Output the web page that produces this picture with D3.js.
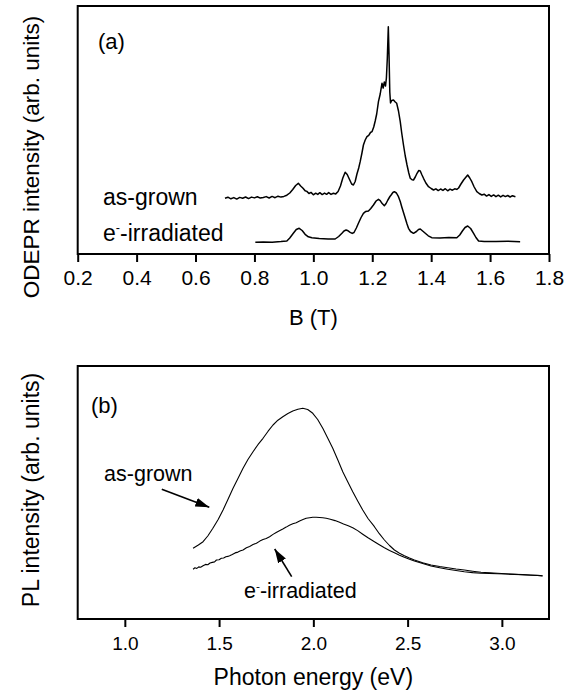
<!DOCTYPE html>
<html><head><meta charset="utf-8">
<script src="https://cdn.jsdelivr.net/npm/d3@7"></script>
<style>
body{margin:0;background:#fff;}
svg text{font-family:"Liberation Sans",Arial,Helvetica,sans-serif;fill:#000;}
</style></head><body>
<svg id="c" width="573" height="694"></svg>
<script>
// ---------- DATA ----------
// Panel (a): ODEPR intensity (arb. units) vs magnetic field B (T)
const odeprAsGrown = [
[0.700,55.7],[0.710,56.8],[0.720,55.2],[0.730,56.4],[0.740,54.9],[0.750,56.6],[0.760,55.8],[0.770,57.0],[0.780,55.4],[0.790,56.9],
[0.800,56.1],[0.810,57.3],[0.820,55.9],[0.830,56.5],[0.840,57.4],[0.850,56.0],[0.860,57.6],[0.870,56.3],[0.880,57.8],[0.890,56.9],
[0.900,57.6],[0.910,58.8],[0.920,61],[0.930,64.5],[0.940,68.5],[0.949,70.7],[0.957,68],[0.965,65.8],[0.972,63.2],[0.978,62.6],
[0.985,60.5],[0.992,61.6],[1.000,59.2],[1.008,60.8],[1.015,59.6],[1.022,61.3],[1.030,59.4],[1.038,60.9],[1.045,59.7],[1.052,61.4],
[1.060,59.6],[1.068,60.7],[1.076,60.1],[1.084,62.5],[1.092,68],[1.100,76],[1.108,81.7],[1.115,79.5],[1.122,75],[1.130,70],
[1.136,69],[1.142,72.5],[1.148,80],[1.154,86],[1.159,92.3],[1.165,101],[1.170,109],[1.176,114],[1.182,117.3],[1.188,118.6],
[1.194,121.5],[1.199,122.3],[1.205,127],[1.210,133],[1.215,140],[1.221,152.3],[1.227,160],[1.233,170.7],[1.237,166],[1.241,172],
[1.245,168],[1.248,176],[1.251,195],[1.2545,227.3],[1.257,198],[1.2595,162],[1.262,151],[1.266,153.5],[1.272,154],[1.278,152],
[1.283,150.7],[1.289,143],[1.295,132.3],[1.300,121],[1.306,109],[1.312,98],[1.318,89],[1.324,81],[1.329,75.7],[1.335,74.2],
[1.340,74],[1.346,77],[1.352,80.7],[1.358,83.5],[1.363,83],[1.368,79.5],[1.374,75.7],[1.382,71],[1.391,67.3],[1.400,65.5],
[1.408,64],[1.416,65.2],[1.424,63.4],[1.432,65.0],[1.440,63.6],[1.448,65.3],[1.456,63.2],[1.464,64.9],[1.472,63.8],[1.480,65.2],
[1.487,64.6],[1.493,66],[1.500,69.5],[1.510,74],[1.517,76.5],[1.524,79],[1.531,76],[1.538,72.3],[1.546,67],[1.555,62.3],
[1.563,60.5],[1.572,59],[1.580,59.8],[1.588,57.9],[1.596,59.4],[1.604,57.6],[1.612,59.1],[1.620,57.3],[1.628,58.8],[1.636,57.1],
[1.644,58.7],[1.652,57.4],[1.660,58.5],[1.668,57.0],[1.676,58.3],[1.686,57.3]
];
const odeprIrradiated = [
[0.803,11.7],[0.830,12.0],[0.860,11.8],[0.890,12.4],[0.910,13],[0.920,16],[0.932,20.7],[0.942,24.5],[0.952,25.7],[0.962,23.5],
[0.972,19.7],[0.983,17.2],[0.995,16.3],[1.020,15.4],[1.050,15.1],[1.074,15],[1.086,17.5],[1.097,20.7],[1.104,23],[1.111,24],
[1.118,23.2],[1.125,21.7],[1.132,20.6],[1.138,21.5],[1.146,26],[1.153,30.7],[1.162,36.5],[1.170,40.7],[1.178,42.6],[1.187,43],
[1.195,45.5],[1.204,49],[1.213,53],[1.221,54.7],[1.227,53.4],[1.233,50.7],[1.241,48.3],[1.247,50.5],[1.253,54],[1.260,57.5],
[1.264,59],[1.270,61.5],[1.275,62.3],[1.282,61],[1.289,57.3],[1.295,52.5],[1.300,47.3],[1.306,41.5],[1.312,35.7],[1.318,30],
[1.323,25.7],[1.330,22.5],[1.340,20.7],[1.350,22.5],[1.357,24.5],[1.363,25],[1.371,23],[1.380,20.7],[1.390,18.2],[1.402,16.3],
[1.430,16.1],[1.460,16.4],[1.487,16.3],[1.497,19],[1.506,23],[1.515,26.5],[1.524,28],[1.534,25.5],[1.544,20.7],[1.552,16.5],
[1.561,13],[1.580,12.6],[1.620,12.4],[1.660,12.7],[1.702,12.3]
];
// Panel (b): PL intensity (arb. units) vs photon energy (eV)
const plAsGrown = [
[1.362,70.7],[1.390,74],[1.415,77.3],[1.440,83],[1.467,90.7],[1.495,99.5],[1.521,109],[1.548,120],[1.574,130.7],[1.600,140.5],
[1.627,150.7],[1.653,159.5],[1.680,167.3],[1.706,174.3],[1.733,180.7],[1.760,187.8],[1.786,194],[1.812,198.8],[1.838,202.3],[1.865,205.5],
[1.891,208],[1.918,209.8],[1.944,210.7],[1.970,209.5],[1.997,205.7],[2.023,199.5],[2.050,190.7],[2.076,181],[2.103,170.7],[2.130,159],
[2.156,147.3],[2.183,137],[2.209,127.3],[2.236,117.8],[2.262,109],[2.290,100.5],[2.324,92.3],[2.350,85.3],[2.377,79],[2.404,73.5],
[2.430,69],[2.457,65.8],[2.483,63.3],[2.510,61],[2.536,59],[2.580,56.3],[2.624,54],[2.670,52.5],[2.713,51.3],[2.757,50],
[2.801,49],[2.845,47.8],[2.889,46.7],[2.933,46.2],[2.977,45.7],[3.020,45.2],[3.066,44.7],[3.110,44.4],[3.154,44],[3.190,43.5],[3.216,43]
];
const plIrradiated = [
[1.362,49.7],[1.372,51.2],[1.382,50.6],[1.392,52.1],[1.402,51.8],[1.415,53.3],[1.428,54.6],[1.440,54.2],[1.452,56.0],[1.464,56.6],
[1.476,57.1],[1.486,59],[1.500,59.3],[1.512,60.8],[1.524,61.0],[1.536,62.3],[1.546,62.6],[1.556,63.3],[1.570,64.5],[1.585,66.1],
[1.600,66.9],[1.614,68.2],[1.627,69],[1.645,71.3],[1.662,72.6],[1.680,74.4],[1.698,75.7],[1.716,77.9],[1.733,79.4],[1.750,80.6],
[1.768,82.3],[1.786,84.6],[1.803,86.5],[1.820,88.2],[1.838,90],[1.856,91.9],[1.873,93.8],[1.891,95.2],[1.909,96.3],[1.927,98],
[1.945,99.4],[1.962,100.7],[1.980,101.3],[1.997,101.8],[2.015,101.7],[2.033,101.5],[2.050,101.2],[2.068,100.7],[2.090,99.7],[2.115,98.4],
[2.139,96.7],[2.160,95],[2.185,93.3],[2.209,91.3],[2.235,88.4],[2.262,84.8],[2.290,81.2],[2.324,77.3],[2.350,74.3],[2.377,71.3],
[2.404,68.6],[2.430,66.3],[2.457,63.8],[2.483,61.7],[2.510,59.8],[2.536,58],[2.580,55.4],[2.624,53],[2.670,51.2],[2.713,49.7],
[2.757,48.5],[2.801,47.3],[2.845,46.4],[2.889,45.7],[2.933,45.6],[2.977,45.3],[3.020,45.0],[3.066,44.6],[3.110,44.2],[3.154,43.8],[3.190,43.6],[3.216,43.2]
];
// Tick values
const ticksA = [0.2,0.4,0.6,0.8,1.0,1.2,1.4,1.6,1.8];
const minorA = [0.3,0.5,0.7,0.9,1.1,1.3,1.5,1.7];
const ticksB = [1.0,1.5,2.0,2.5,3.0];
const minorB = [0.75,1.25,1.75,2.25,2.75,3.25];
// Annotations (data coordinates)
const labelsA = [{t:"as-grown",x:0.286,y:49},{t:"irr",x:0.286,y:13}];
const labelsB = [{t:"as-grown",x:0.89,y:138},{t:"irr",x:1.632,y:21}];
const arrowsB = [{x1:1.196,y1:129.7,x2:1.448,y2:111.8},{x1:1.885,y1:42.3,x2:1.795,y2:70}];

// ---------- DRAWING ----------
const svg = d3.select("#c");
const L = 77.7, R = 549;
const xA = d3.scaleLinear().domain([0.2,1.8]).range([L,R]);
const yA = d3.scaleLinear().domain([0,248]).range([254,6]);
const xB = d3.scaleLinear().domain([0.75,3.25]).range([L,R]);
const yB = d3.scaleLinear().domain([0,253]).range([619,366]);

svg.append("defs").append("marker")
  .attr("id","ah").attr("markerUnits","userSpaceOnUse")
  .attr("markerWidth",15).attr("markerHeight",10).attr("refX",14).attr("refY",5)
  .attr("orient","auto")
  .append("path").attr("d","M0,0.5 L14,5 L0,9.5 Z").attr("fill","#000");

function axis(x, y0, major, minor, fs, pad){
  const g = svg.append("g").attr("transform",`translate(0,${y0})`);
  g.call(d3.axisBottom(x).tickValues(minor).tickSize(5).tickFormat(""));
  g.call(d3.axisBottom(x).tickValues(major).tickSize(8).tickPadding(pad).tickFormat(d3.format(".1f")));
  g.selectAll(".domain").remove();
  g.selectAll(".tick line").attr("stroke","#000").attr("stroke-width",2);
  g.selectAll(".tick text").style("font-size",fs+"px");
}

function irrLabel(sel, fs){
  sel.append("tspan").text("e");
  sel.append("tspan").text("-").style("font-size",(fs*0.55)+"px").attr("dy",-fs*0.38);
  sel.append("tspan").text("-irradiated").attr("dy",fs*0.38);
}

function panel(x, y, series, sw, frameTop, frameBot, labels, fsLab, tag, tagPos, ylab, ylabY, ylabFs){
  const line = d3.line().x(d=>x(d[0])).y(d=>y(d[1]));
  series.forEach(s=>{
    svg.append("path").datum(s).attr("d",line).attr("fill","none")
      .attr("stroke","#000").attr("stroke-width",sw).attr("stroke-linejoin","round");
  });
  svg.append("rect").attr("x",L).attr("y",frameTop).attr("width",R-L).attr("height",frameBot-frameTop)
    .attr("fill","none").attr("stroke","#000").attr("stroke-width",2);
  labels.forEach(l=>{
    const t = svg.append("text").attr("x",x(l.x)).attr("y",y(l.y)).style("font-size",fsLab+"px");
    if(l.t==="irr") irrLabel(t, fsLab); else t.text(l.t);
  });
  svg.append("text").attr("x",x(tagPos[0])).attr("y",y(tagPos[1])).style("font-size","22px").text(tag);
  svg.append("text").attr("transform",`translate(39,${ylabY}) rotate(-90)`)
    .attr("text-anchor","middle").style("font-size",ylabFs+"px").text(ylab);
}

panel(xA, yA, [odeprAsGrown, odeprIrradiated], 1.5, 6, 254, labelsA, 23, "(a)", [0.269,205],
      "ODEPR intensity (arb. units)", 157, 22.5);
axis(xA, 254, ticksA, minorA, 21, 8);
svg.append("text").attr("x",(L+R)/2).attr("y",325).attr("text-anchor","middle").style("font-size","22px").text("B (T)");

panel(xB, yB, [plAsGrown, plIrradiated], 1.1, 366, 619, labelsB, 21.5, "(b)", [0.82,206],
      "PL intensity (arb. units)", 490, 23);
axis(xB, 619, ticksB, minorB, 19, 10);
svg.append("text").attr("x",(L+R)/2).attr("y",685).attr("text-anchor","middle").style("font-size","23px").text("Photon energy (eV)");

arrowsB.forEach(a=>{
  svg.append("line").attr("x1",xB(a.x1)).attr("y1",yB(a.y1)).attr("x2",xB(a.x2)).attr("y2",yB(a.y2))
    .attr("stroke","#000").attr("stroke-width",1.6).attr("marker-end","url(#ah)");
});
</script>
</body></html>
